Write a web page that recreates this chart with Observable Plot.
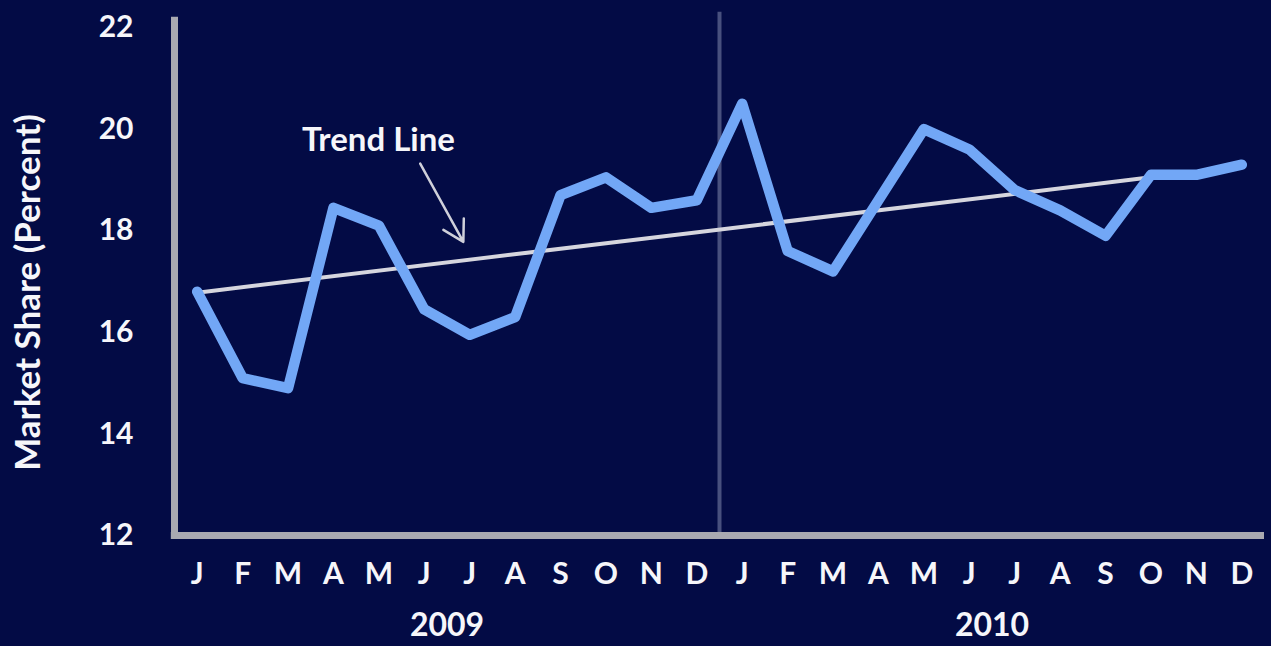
<!DOCTYPE html>
<html>
<head>
<meta charset="utf-8">
<script src="https://cdn.jsdelivr.net/npm/d3@7"></script>
<script src="https://cdn.jsdelivr.net/npm/@observablehq/plot@0.6"></script>
<style>
  html, body { margin: 0; padding: 0; background: #030b45; }
  #chart svg { display: block; }
</style>
</head>
<body>
<div id="chart"></div>
<script>
// Data
const monthLetters = ["J","F","M","A","M","J","J","A","S","O","N","D"];
const years = ["2009", "2010"];
const share2009 = [16.8, 15.1, 14.9, 18.45, 18.1, 16.45, 15.95, 16.3, 18.7, 19.05, 18.45, 18.6];
const share2010 = [20.5, 17.6, 17.2, 18.6, 20.0, 19.6, 18.8, 18.4, 17.9, 19.1, 19.1, 19.3];
const trendStart = {i: 0, v: 16.78};
const trendEnd = {i: 21, v: 19.05};
const yTicks = [12, 14, 16, 18, 20, 22];
const yTitle = "Market Share (Percent)";
const annotation = "Trend Line";

const series = [...share2009, ...share2010].map((v, i) => ({i, v}));
const tickLabels = [...monthLetters, ...monthLetters];
const yearCenters = years.map((y, k) => ({x: k * 12 + 5.5, label: y}));

const white = "#f6f6fa";
const font = "Lato, 'Open Sans', sans-serif";

const chart = Plot.plot({
  width: 1271,
  height: 646,
  marginLeft: 174,
  marginRight: 7,
  marginTop: 27,
  marginBottom: 111,
  style: {background: "#030b45", fontFamily: font, color: white},
  x: {type: "linear", domain: [-0.5, 23.5], axis: null},
  y: {domain: [12, 22], axis: null},
  marks: [
    // year separator
    Plot.ruleX([11.5], {y1: 12, y2: 22.3, stroke: "#48507e", strokeWidth: 4}),
    // axes frame
    Plot.ruleX([-0.5], {y1: 12, y2: 22.2, stroke: "#a9a9b1", strokeWidth: 7}),
    Plot.ruleY([12], {x1: -0.57, x2: 23.5, stroke: "#a9a9b1", strokeWidth: 7}),
    // trend line
    Plot.link([0], {x1: () => trendStart.i, y1: () => trendStart.v, x2: () => trendEnd.i, y2: () => trendEnd.v,
      stroke: "#d6d6de", strokeWidth: 4, strokeLinecap: "round"}),
    // market share
    Plot.line(series, {x: "i", y: "v", stroke: "#72a7f6", strokeWidth: 10.5, strokeLinejoin: "round", strokeLinecap: "round"}),
    // annotation arrow
    Plot.arrow([0], {x1: () => 4.91, y1: () => 19.32, x2: () => 5.86, y2: () => 17.78,
      stroke: "#cfd0da", strokeWidth: 2.5, headLength: 14, bend: 0}),
    Plot.text([annotation], {x: () => 3.99, y: () => 19.78, text: d => d, fill: white,
      fontSize: 33, fontWeight: "bold", fontFamily: font}),
    // y tick labels
    Plot.text(yTicks, {x: -0.5, y: d => d, text: d => String(d), dx: -41, textAnchor: "end",
      fill: white, fontSize: 30, fontWeight: "bold", fontFamily: font}),
    // month labels
    Plot.text(tickLabels, {x: (d, i) => i, y: 12, text: d => d, dy: 39, fill: white,
      fontSize: 30, fontWeight: "bold", fontFamily: font}),
    // year labels
    Plot.text(yearCenters, {x: "x", y: 12, text: "label", dy: 90, fill: white,
      fontSize: 32, fontWeight: "bold", fontFamily: font}),
    // y title
    Plot.text([yTitle], {frameAnchor: "left", text: d => d, rotate: -90, dx: -146, dy: 11,
      textAnchor: "middle", fill: white, fontSize: 35, fontWeight: "bold", fontFamily: font})
  ]
});
document.getElementById("chart").appendChild(chart);
</script>
</body>
</html>
